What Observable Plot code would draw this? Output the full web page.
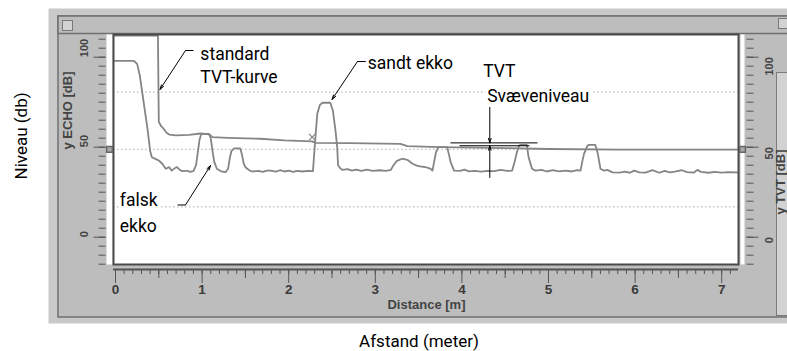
<!DOCTYPE html>
<html><head><meta charset="utf-8">
<script src="https://cdn.jsdelivr.net/npm/d3@7"></script>
<script src="https://cdn.jsdelivr.net/npm/@observablehq/plot@0.6"></script>
<style>
html,body{margin:0;padding:0;background:#fff;}
#chart svg{display:block;}
</style>
</head><body><div id="chart"></div>
<script>
// Echo profile: [distance m, level dB]
const echoSeries = [[-0.02,98.0],[0.21,98.0],[0.25,96.3],[0.28,90],[0.31,80],[0.34,70],[0.37,60],[0.40,48],[0.42,44.4],[0.46,43.5],[0.50,42.6],[0.54,40.8],[0.58,38],[0.62,38.9],[0.65,37],[0.69,38.5],[0.71,38.9],[0.74,37.5],[0.77,36.7],[0.83,36.9],[0.86,36.3],[0.90,36.7],[0.93,40],[0.95,47],[0.97,54],[0.99,57.4],[1.08,57.4],[1.10,55],[1.12,48],[1.14,42],[1.17,38],[1.22,36.6],[1.27,36.1],[1.30,38],[1.32,44],[1.34,48],[1.37,49.4],[1.44,49.4],[1.46,46],[1.48,41],[1.50,38.9],[1.55,37],[1.58,36.5],[1.65,36.9],[1.70,36.3],[1.75,37],[1.79,37],[1.85,36.4],[1.90,37.2],[1.95,36.5],[2.00,37],[2.05,36.3],[2.10,36.9],[2.16,36.5],[2.22,36.9],[2.28,36.7],[2.30,50],[2.33,68.6],[2.36,73.5],[2.39,74.7],[2.48,74.7],[2.51,70.4],[2.54,59.3],[2.56,50],[2.57,40],[2.60,38],[2.62,37.4],[2.68,37.8],[2.73,37],[2.78,37.6],[2.84,36.8],[2.90,37.5],[2.97,36.9],[3.05,37.2],[3.12,36.9],[3.18,37.4],[3.21,40],[3.25,42.4],[3.31,43.6],[3.37,43],[3.43,40.8],[3.48,39.8],[3.52,39.3],[3.57,39],[3.60,38.6],[3.64,38],[3.66,37],[3.68,42],[3.70,47.2],[3.73,50],[3.83,50],[3.85,46],[3.87,41.7],[3.91,37],[3.98,36.8],[4.03,37.5],[4.08,36.6],[4.15,36.9],[4.22,36.4],[4.30,36.9],[4.37,36.7],[4.45,37.4],[4.52,36.8],[4.58,37],[4.61,42],[4.63,46.3],[4.66,50.9],[4.68,51.3],[4.75,51.3],[4.77,44.4],[4.81,38],[4.85,37],[4.92,37.4],[4.98,36.5],[5.05,37.2],[5.12,36.6],[5.20,37],[5.27,36.5],[5.33,37.2],[5.37,37],[5.39,42],[5.41,46.3],[5.45,50.9],[5.47,51.3],[5.54,51.3],[5.57,46.3],[5.60,38],[5.64,37],[5.68,37.4],[5.74,36],[5.82,35.9],[5.88,36.4],[5.94,35.8],[5.99,37],[6.05,36],[6.12,35.9],[6.20,37.3],[6.28,35.8],[6.34,36.8],[6.40,36],[6.46,36.4],[6.54,37.2],[6.60,36.2],[6.68,35.9],[6.72,37.4],[6.76,36.3],[6.85,35.8],[6.92,36.3],[7.00,35.9],[7.08,36.2],[7.18,36.0]];

// Standard TVT curve: [distance m, level dB]
const tvtSeries = [[-0.02,112],[0.49,112],[0.50,64],[0.53,61.5],[0.56,60],[0.59,58],[0.62,57],[0.70,56.6],[0.85,56.9],[0.98,57.6],[1.08,57.2],[1.12,55.6],[1.30,55.2],[1.67,54.7],[1.95,53.8],[2.27,53.2],[2.31,52.4],[2.70,52.3],[3.29,51.9],[3.37,50.6],[3.75,50.0],[4.50,49.5],[5.00,49.0],[5.80,48.7],[7.18,48.7]];

const xDomain = [-0.0231, 7.194];
const yDomain = [-15.17, 112.61];
const gridLevels = [16.9, 48.75, 80.6];
const yLabelTicks = [0, 50, 100];
const xLabelTicks = [0, 1, 2, 3, 4, 5, 6, 7];
const yMinorTicks = d3.range(-15, 111, 5);
const xMinorTicks = d3.range(0, 72).map(i => i / 10);
const xMidTicks = d3.range(0.5, 7, 1);

// Annotations
const noteText = ["standard", "TVT-kurve", "sandt ekko", "TVT", "Svæveniveau", "falsk", "ekko"];
const noteDist = [0.98, 0.98, 2.913, 4.246, 4.292, 0.05, 0.05];
const noteLevel = [98.7, 85.4, 93.7, 88.9, 75.0, 17.2, 2.8];

const leaderX1 = [0.808, 2.794, 0.716, 3.868, 3.972];
const leaderX2 = [0.901, 2.898, 0.808, 4.873, 4.781];
const leaderY1 = [103.7, 97.6, 17.9, 52.4, 50.8];
const leaderY2 = [103.7, 97.6, 17.9, 52.4, 50.8];

const arrowX1 = [0.808, 2.794, 0.808, 4.322, 4.322];
const arrowY1 = [103.7, 97.6, 17.9, 72.1, 33.2];
const arrowX2 = [0.514, 2.500, 1.097, 4.322, 4.322];
const arrowY2 = [82.1, 76.5, 39.8, 52.4, 50.8];

const crossPoint = [[2.271, 55.6]];

const echo = echoSeries.map(([d, v]) => ({d, v}));
const tvt = tvtSeries.map(([d, v]) => ({d, v}));
const notes = noteText.map((t, i) => ({t, d: noteDist[i], v: noteLevel[i]}));
const leaders = leaderX1.map((x, i) => ({x1: x, x2: leaderX2[i], y1: leaderY1[i], y2: leaderY2[i]}));
const arrows = arrowX1.map((x, i) => ({x1: x, x2: arrowX2[i], y1: arrowY1[i], y2: arrowY2[i]}));

const tickGray = "#555";
const labelFont = "'Liberation Sans', Arial, sans-serif";
const noteFont = "Roboto, 'Liberation Sans', sans-serif";
const curveGray = "#858585";

const chart = Plot.plot({
  width: 787, height: 351,
  marginLeft: 113, marginRight: 49, marginTop: 34, marginBottom: 87,
  x: {domain: xDomain, axis: null, label: null},
  y: {domain: yDomain, axis: null, label: null},
  style: {background: "white", fontFamily: labelFont, overflow: "visible"},
  marks: [
    // window chrome
    Plot.frame({fill: "#c9c9c9", insetLeft: -65, insetRight: -49, insetTop: -26, insetBottom: -59}),
    Plot.frame({fill: "#bdbdbd", stroke: "#707070", strokeWidth: 1.5, insetLeft: -55.5, insetRight: -57, insetTop: -18.5, insetBottom: -52.5}),
    Plot.frame({fill: "#bdbdbd", stroke: "#707070", strokeWidth: 1.5, insetLeft: -55.5, insetRight: -57, insetTop: -18.5, insetBottom: 231}),
    Plot.frame({fill: "#d2d2d2", stroke: "#7a7a7a", insetLeft: -51, insetRight: 666, insetTop: -14, insetBottom: 234}),
    Plot.frame({fill: "#d2d2d2", stroke: "#7a7a7a", insetLeft: 665, insetRight: -49, insetTop: -16, insetBottom: 236}),
    Plot.frame({fill: "#d2d2d2", stroke: "#7a7a7a", insetLeft: 663, insetRight: -49, insetTop: 38, insetBottom: -51}),
    Plot.frame({fill: "white", insetLeft: -7, insetRight: 626}),
    Plot.frame({fill: "white", insetLeft: 627, insetRight: -6}),
    Plot.frame({fill: "white"}),
    // grid
    Plot.ruleY(gridLevels, {stroke: "#bdbdbd", strokeDasharray: "1.5,2.5", strokeWidth: 1.2}),
    // curves
    Plot.line(tvt, {x: "d", y: "v", stroke: curveGray, strokeWidth: 1.8}),
    Plot.line(echo, {x: "d", y: "v", stroke: curveGray, strokeWidth: 1.8}),
    Plot.dot(crossPoint, {x: d => d[0], y: d => d[1], symbol: "times", r: 3, stroke: curveGray, strokeWidth: 1.2}),
    // plot border
    Plot.frame({stroke: "#4a4a4a", strokeWidth: 2}),
    Plot.ruleY([yDomain[0]], {dy: 5, stroke: "#555", strokeWidth: 2}),
    // level markers
    Plot.dot([gridLevels[1]], {y: d => d, frameAnchor: "left", dx: -4, symbol: "square", r: 3.2, fill: "#a9a9a9", stroke: "#666"}),
    Plot.dot([gridLevels[1]], {y: d => d, frameAnchor: "right", dx: 4, symbol: "square", r: 3.2, fill: "#a9a9a9", stroke: "#666"}),
    // left axis
    Plot.axisY({anchor: "left", ticks: yMinorTicks, tickSize: 7, dx: -7.5, tickFormat: () => "", stroke: tickGray, label: null}),
    Plot.axisY({anchor: "left", ticks: yLabelTicks, tickSize: 12, dx: -7.5, tickFormat: () => "", stroke: tickGray, label: null}),
    Plot.text(yLabelTicks, {y: d => d, text: d => String(d), frameAnchor: "left", dx: -29, rotate: -90, fontSize: 11, fontWeight: "bold", fill: "#444"}),
    Plot.text(["y ECHO [dB]"], {frameAnchor: "left", dx: -46, rotate: -90, fontSize: 13, fontWeight: "bold", fill: "#444"}),
    // right axis
    Plot.axisY({anchor: "right", ticks: yMinorTicks, tickSize: 7, dx: 7.5, tickFormat: () => "", stroke: tickGray, label: null}),
    Plot.axisY({anchor: "right", ticks: yLabelTicks, tickSize: 12, dx: 7.5, tickFormat: () => "", stroke: tickGray, label: null}),
    Plot.text(yLabelTicks, {y: d => d, text: d => String(d), frameAnchor: "right", dx: 31, rotate: -90, fontSize: 11, fontWeight: "bold", fill: "#444"}),
    Plot.text(["y TVT [dB]"], {frameAnchor: "right", dx: 42, rotate: -90, fontSize: 13, fontWeight: "bold", fill: "#444"}),
    // x axis
    Plot.axisX({anchor: "bottom", ticks: xMinorTicks, tickSize: 4, dy: 6, tickFormat: () => "", stroke: tickGray, label: null}),
    Plot.axisX({anchor: "bottom", ticks: xMidTicks, tickSize: 8, dy: 6, tickFormat: () => "", stroke: tickGray, label: null}),
    Plot.axisX({anchor: "bottom", ticks: xLabelTicks, tickSize: 13, dy: 6, tickFormat: () => "", stroke: tickGray, label: null}),
    Plot.text(xLabelTicks, {x: d => d, text: d => String(d), frameAnchor: "bottom", dy: 29.7, fontSize: 13.5, fontWeight: "bold", fill: "#3a3a3a"}),
    Plot.text(["Distance [m]"], {frameAnchor: "bottom", dx: 0.5, dy: 44.7, fontSize: 13, fontWeight: "bold", fill: "#444"}),
    // annotations
    Plot.link(leaders, {x1: "x1", y1: "y1", x2: "x2", y2: "y2", stroke: "black", strokeWidth: 1}),
    Plot.arrow(arrows, {x1: "x1", y1: "y1", x2: "x2", y2: "y2", stroke: "black", strokeWidth: 1, headLength: 7, headAngle: 32}),
    Plot.text(notes, {x: "d", y: "v", text: "t", textAnchor: "start", lineAnchor: "bottom", fontSize: 17.5, fontFamily: noteFont, fill: "black", stroke: "white", strokeWidth: 6}),
    // outer labels
    Plot.text(["Niveau (db)"], {frameAnchor: "left", dx: -92, dy: 30, rotate: -90, fontSize: 17, fontFamily: noteFont, fill: "black"}),
    Plot.text(["Afstand (meter)"], {frameAnchor: "bottom", dx: -7, dy: 82, lineAnchor: "bottom", fontSize: 17, fontFamily: noteFont, fill: "black"})
  ]
});
document.getElementById("chart").append(chart);
</script>
</body></html>
